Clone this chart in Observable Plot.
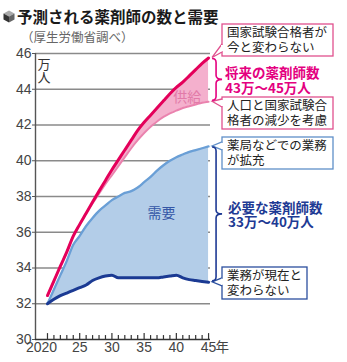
<!DOCTYPE html>
<html><head><meta charset="utf-8">
<script src="https://cdn.jsdelivr.net/npm/d3@7"></script>
<script src="https://cdn.jsdelivr.net/npm/@observablehq/plot@0.6"></script>
<style>
html,body{margin:0;padding:0;background:#fff;}
#wrap{position:relative;width:347px;height:362px;overflow:hidden;font-family:"Noto Sans CJK JP",sans-serif;}
#chart{position:absolute;left:0;top:0;}
#title{position:absolute;left:17px;top:9px;font-size:15.5px;line-height:1;font-weight:bold;color:#1a1a1a;white-space:nowrap;}
#sub{position:absolute;left:21px;top:31px;font-size:12.5px;line-height:1;color:#666;white-space:nowrap;}
#icon{position:absolute;left:3px;top:10px;}
</style></head>
<body>
<div id="wrap">
  <div id="chart"></div>
  <svg id="icon" width="12" height="13" viewBox="0 0 12 13">
    <polygon points="6,0.5 11.5,3.5 6,6.5 0.5,3.5" fill="#aaa"/>
    <polygon points="0.5,3.5 6,6.5 6,12.5 0.5,9.5" fill="#333"/>
    <polygon points="11.5,3.5 6,6.5 6,12.5 11.5,9.5" fill="#666"/>
  </svg>
  <div id="title">予測される薬剤師の数と需要</div>
  <div id="sub">（厚生労働省調べ）</div>
</div>
<script>
// ---- data (万人) ----
const years      = [2020,2021,2022,2023,2024,2025,2026,2027,2028,2029,2030,2031,2032,2033,2034,2035,2036,2037,2038,2039,2040,2041,2042,2043,2044,2045];
const supplyHigh = [32.46,33.28,34.1,34.9,35.78,36.44,37.06,37.69,38.3,38.9,39.5,40.05,40.6,41.15,41.7,42.15,42.55,42.95,43.35,43.75,44.1,44.4,44.75,45.1,45.45,45.75];
const supplyLow  = [32.46,33.28,34.1,34.9,35.78,36.44,37.06,37.62,38.15,38.7,39.2,39.7,40.2,40.7,41.15,41.55,41.9,42.2,42.45,42.65,42.8,42.95,43.05,43.15,43.25,43.3];
const demandHigh = [32.0,32.8,33.6,34.4,35.3,35.8,36.35,36.8,37.2,37.5,37.8,38.0,38.2,38.3,38.5,38.8,39.1,39.45,39.75,40.0,40.2,40.35,40.5,40.6,40.7,40.8];
const demandLow  = [32.0,32.25,32.45,32.6,32.75,32.9,33.05,33.3,33.45,33.55,33.6,33.45,33.45,33.45,33.45,33.45,33.45,33.45,33.5,33.55,33.6,33.45,33.35,33.3,33.25,33.2];
const yTicks = [30,32,34,36,38,40,42,44,46];
const xLabelYears = [2020,2025,2030,2035,2040,2045];
const xLabels = ["2020","25","30","35","40","45"];
const majorYears = [2020,2025,2030,2035,2040,2045];
const xDomain = [2018.14, 2045.3];
const yDomain = [30, 46];
const unitLabel = "万\n人";
const areaLabels = [
  {text:"供給", year:2041.7, value:43.55, color:"#e27aa8"},
  {text:"需要", year:2037.7, value:37.05, color:"#3556a6"}
];
const boxNotes = [
  {lines:["国家試験合格者が","今と変わらない"], series:"sH", color:"#e0508e", top:24, w:111},
  {lines:["人口と国家試験合","格者の減少を考慮"], series:"sL", color:"#e0508e", top:97, w:111},
  {lines:["薬局などでの業務","が拡充"], series:"dH", color:"#5f8fc8", top:137, w:111},
  {lines:["業務が現在と","変わらない"], series:"dL", color:"#2b4f9e", top:267, w:85}
];
const braceNotes = [
  {from:"sH", to:"sL", lines:["将来の薬剤師数","43万～45万人"], color:"#e4007f", tx:225},
  {from:"dH", to:"dL", lines:["必要な薬剤師数","33万～40万人"], color:"#1e3a94", tx:228}
];

const table = years.map((y,i)=>({year:y, sH:supplyHigh[i], sL:supplyLow[i], dH:demandHigh[i], dL:demandLow[i]}));
const minorYears = years.filter(y=>!majorYears.includes(y));

const chart = Plot.plot({
  width: 347, height: 362,
  marginLeft: 35, marginRight: 137, marginTop: 53, marginBottom: 23,
  x: {domain: xDomain, axis: null},
  y: {domain: yDomain, axis: null},
  style: {fontFamily: "'Liberation Sans', Arial, sans-serif", background: "transparent", overflow: "visible"},
  marks: [
    Plot.gridY(yTicks.filter(v=>v>30), {stroke:"#8a8a8a", strokeOpacity:1, strokeWidth:1.4}),
    Plot.areaY(table, {x:"year", y1:"dL", y2:"dH", fill:"#b3cde8", curve:"monotone-x"}),
    Plot.areaY(table, {x:"year", y1:"sL", y2:"sH", fill:"#f4b0cd", curve:"monotone-x"}),
    Plot.line(table, {x:"year", y:"dH", stroke:"#6a9fd6", strokeWidth:2.3, curve:"monotone-x"}),
    Plot.line(table, {x:"year", y:"dL", stroke:"#1b3a93", strokeWidth:3, curve:"monotone-x"}),
    Plot.line(table, {x:"year", y:"sL", stroke:"#ea82ae", strokeWidth:2, curve:"monotone-x"}),
    Plot.line(table, {x:"year", y:"sH", stroke:"#e4005a", strokeWidth:3, curve:"monotone-x"}),
    Plot.ruleX([xDomain[0]], {y1:yDomain[0], y2:yDomain[1], stroke:"#555", strokeWidth:1.4}),
    Plot.ruleY([yDomain[0]], {stroke:"#333", strokeWidth:1.5}),
    Plot.ruleX(minorYears, {y1:yDomain[0], y2:30.22, stroke:"#333", strokeWidth:1.2}),
    Plot.ruleX(majorYears, {y1:yDomain[0], y2:30.33, stroke:"#333", strokeWidth:1.2}),
    Plot.axisY(yTicks, {tickSize:3, tickPadding:1, fontSize:14, fill:"#444", stroke:"#555", label:null, fontFamily:"'Liberation Sans', Arial, sans-serif"}),
    Plot.text(xLabelYears, {x:d=>d, frameAnchor:"bottom", dy:12, text:(d,i)=>xLabels[i], fontSize:14, fill:"#444"}),
    Plot.text(["年"], {x:[xDomain[1]], frameAnchor:"bottom", dy:12, dx:5, text:d=>d, fontSize:13.5, fill:"#444", fontFamily:"Noto Sans CJK JP", textAnchor:"start"}),
    Plot.text([unitLabel], {frameAnchor:"top-left", dx:2, dy:6, text:d=>d, fontSize:13, lineHeight:1, lineAnchor:"top", fill:"#333", textAnchor:"start", fontFamily:"Noto Sans CJK JP"}),
    Plot.text(areaLabels, {x:"year", y:"value", text:"text", fill:"color", fontSize:14, fontFamily:"Noto Sans CJK JP"})
  ]
});
document.getElementById("chart").appendChild(chart);

// shift "2020" label slightly left as in reference
d3.select(chart).selectAll("text").filter(function(){return this.textContent==="2020";}).attr("dx", -6);

// ---- annotations ----
const sx = chart.scale("x"), sy = chart.scale("y");
const last = table[table.length-1];
const endX = sx.apply(last.year);
const svg = d3.select(chart);
const g = svg.append("g").attr("font-family","Noto Sans CJK JP").attr("text-anchor","start");

boxNotes.forEach(b=>{
  const bx = 222, by = b.top, h = 32;
  g.append("rect").attr("x",bx).attr("y",by).attr("width",b.w).attr("height",h)
   .attr("fill","#fff").attr("stroke",b.color).attr("stroke-width",1.3);
  const tipY = sy.apply(last[b.series]);
  const tipX = endX + 4;
  const ya = Math.max(by+2, Math.min(by+h-12, tipY-4));
  const yb = ya + 8;
  g.append("path").attr("d",`M${bx},${ya}L${tipX},${tipY}L${bx},${yb}`)
   .attr("fill","#fff").attr("stroke",b.color).attr("stroke-width",1.3);
  g.append("line").attr("x1",bx).attr("x2",bx).attr("y1",ya+1).attr("y2",yb-1).attr("stroke","#fff").attr("stroke-width",2);
  b.lines.forEach((t,i)=>{
    g.append("text").attr("x",bx+5).attr("y",by+9+i*14.5).attr("dy","0.35em")
     .attr("font-size",12.5).attr("fill","#222").text(t);
  });
});

braceNotes.forEach(b=>{
  const y0 = sy.apply(last[b.from]) + 1, y1 = sy.apply(last[b.to]) - 1;
  const x0 = endX + 4, xm = x0 + 4, ym = (y0+y1)/2, tip = x0 + 10;
  g.append("path").attr("d",
    `M${x0},${y0}Q${xm},${y0} ${xm},${y0+4}L${xm},${ym-4}Q${xm},${ym} ${tip},${ym}Q${xm},${ym} ${xm},${ym+4}L${xm},${y1-4}Q${xm},${y1} ${x0},${y1}`)
   .attr("fill","none").attr("stroke",b.color).attr("stroke-width",1.6);
  b.lines.forEach((t,i)=>{
    g.append("text").attr("x",b.tx).attr("y",ym-6+i*14.5).attr("dy","0.35em")
     .attr("font-size",13.5).attr("font-weight","bold").attr("fill",b.color).text(t);
  });
});
</script>
</body></html>
